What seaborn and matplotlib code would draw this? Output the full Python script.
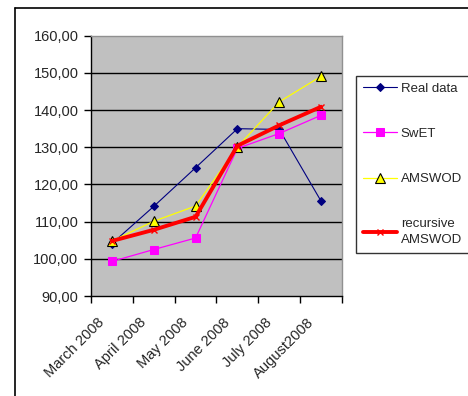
import numpy as np
import matplotlib
matplotlib.use("Agg")
import matplotlib.pyplot as plt
from matplotlib.lines import Line2D
from matplotlib.ticker import FuncFormatter
import seaborn as sns

# chart data
months = ["March 2008", "April 2008", "May 2008", "June 2008", "July 2008", "August2008"]
real_data = [104.1, 114.1, 124.5, 135.0, 134.8, 115.5]
swet = [99.3, 102.5, 105.6, 129.7, 133.7, 138.6]
amswod = [104.8, 110.1, 114.2, 130.1, 142.2, 149.1]
recursive_amswod = [104.8, 107.8, 111.3, 130.4, 135.9, 140.9]

sns.set_theme(style="white")
plt.rcParams["font.family"] = ["Liberation Sans", "DejaVu Sans"]

fig = plt.figure(figsize=(4.68, 3.96), dpi=100)
ax = fig.add_axes([0.1944, 0.2525, 0.5364, 0.6573])
ax.set_facecolor("#c0c0c0")

# outer chart border (Excel style, runs off the image)
fig.add_artist(Line2D([0.032, 0.032], [0.0, 0.98], color="black", lw=1.2, transform=fig.transFigure))
fig.add_artist(Line2D([0.032, 1.0], [0.98, 0.98], color="black", lw=1.2, transform=fig.transFigure))

sns.lineplot(x=months, y=real_data, sort=False, ax=ax, color="#000080", lw=0.8,
             marker="D", markersize=4, markeredgecolor="#000080", label="Real data")
sns.lineplot(x=months, y=swet, sort=False, ax=ax, color="#ff00ff", lw=0.9,
             marker="s", markersize=5.5, markeredgecolor="#ff00ff", label="SwET")
sns.lineplot(x=months, y=amswod, sort=False, ax=ax, color="#ffff00", lw=0.9,
             marker="^", markersize=7.5, markeredgecolor="black", markeredgewidth=0.8,
             label="AMSWOD", zorder=3)
sns.lineplot(x=months, y=recursive_amswod, sort=False, ax=ax, color="#ff0000", lw=2.8,
             marker="x", markersize=5, markeredgecolor="#ff0000", markeredgewidth=1.0,
             label="recursive\nAMSWOD", zorder=4)

ax.set_ylim(90, 160)
ax.set_yticks(np.arange(90, 161, 10))
ax.yaxis.set_major_formatter(FuncFormatter(lambda v, p: f"{v:.2f}".replace(".", ",")))
for yv in range(100, 160, 10):
    ax.axhline(yv, color="black", lw=1.0, zorder=1)

ax.set_xlim(-0.5, 5.5)
ax.set_xticks(np.arange(-0.5, 6, 1))
ax.set_xticklabels([])
# labels sit a bit left of the category centre, like the Excel original
ax.set_xticks(np.arange(6) - 0.35, minor=True)
ax.set_xticklabels(months, minor=True, rotation=45, ha="right", rotation_mode="anchor", fontsize=10.5)
ax.tick_params(axis="x", which="major", direction="out", length=5, width=1, color="black", bottom=True)
ax.tick_params(axis="x", which="minor", length=0, pad=14)
ax.tick_params(axis="y", direction="out", length=5, width=1, color="black", left=True, labelsize=10.5, pad=4)
ax.set_xlabel("")
ax.set_ylabel("")

for side in ["left", "bottom"]:
    ax.spines[side].set_color("black")
    ax.spines[side].set_linewidth(1.0)
for side in ["top", "right"]:
    ax.spines[side].set_color("#909090")
    ax.spines[side].set_linewidth(1.0)

leg = ax.legend(loc="upper left", bbox_to_anchor=(0.7607, 0.808), bbox_transform=fig.transFigure,
                frameon=True, fancybox=False, edgecolor="black", facecolor="white",
                fontsize=9.5, labelspacing=2.5, handlelength=2.6, handletextpad=0.3,
                borderpad=0.5, borderaxespad=0)
leg.get_frame().set_linewidth(1.0)
leg.get_texts()[-1].set_linespacing(1.45)

fig.savefig("out.png", dpi=100)
